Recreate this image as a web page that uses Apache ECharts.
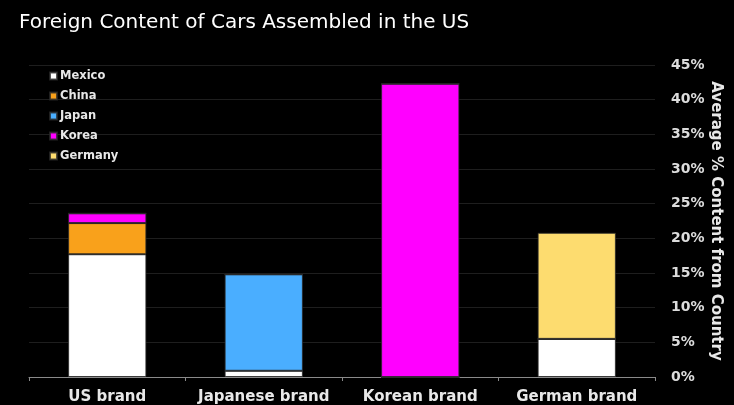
<!DOCTYPE html>
<html>
<head>
<meta charset="utf-8">
<script src="https://cdn.jsdelivr.net/npm/echarts@6/dist/echarts.min.js"></script>
<style>
  html, body { margin: 0; padding: 0; background: #000; }
  #chart { width: 734px; height: 405px; }
</style>
</head>
<body>
<div id="chart"></div>
<script>
// Brand groups along the x axis
const categories = ['US brand', 'Japanese brand', 'Korean brand', 'German brand'];

// Average % content sourced from each country (stacked)
const mexico  = [17.7, 0.9, 0, 5.5];
const china   = [4.5, 0, 0, 0];
const japan   = [0, 13.9, 0, 0];
const korea   = [1.4, 0, 42.3, 0];
const germany = [0, 0, 0, 15.3];

const yTicks = { min: 0, max: 45, interval: 5 };

const seriesDefs = [
  { name: 'Mexico',  data: mexico,  color: '#ffffff' },
  { name: 'China',   data: china,   color: '#f9a11b' },
  { name: 'Japan',   data: japan,   color: '#4aaeff' },
  { name: 'Korea',   data: korea,   color: '#ff00ff' },
  { name: 'Germany', data: germany, color: '#fddc6f' }
];

const chart = echarts.init(document.getElementById('chart'));
chart.setOption({
  backgroundColor: '#000000',
  animation: false,
  title: {
    text: 'Foreign Content of Cars Assembled in the US',
    left: 14,
    top: 8,
    textStyle: {
      color: '#ffffff',
      fontFamily: 'DejaVu Sans',
      fontWeight: 'normal',
      fontSize: 20
    }
  },
  legend: {
    orient: 'vertical',
    left: 44,
    top: 65,
    itemWidth: 7,
    itemHeight: 7,
    itemGap: 8,
    icon: 'rect',
    selectedMode: false,
    textStyle: {
      color: '#e8e8e8',
      fontFamily: 'DejaVu Sans',
      fontWeight: 'bold',
      fontSize: 11.5,
      padding: [0, 0, 0, -2]
    },
    data: seriesDefs.map(s => s.name)
  },
  grid: {
    left: 29,
    right: 79,
    top: 65,
    bottom: 28,
    containLabel: false,
    outerBoundsMode: 'none'
  },
  xAxis: {
    type: 'category',
    data: categories,
    axisLine: { lineStyle: { color: '#8a8a8a', width: 1 } },
    axisTick: { show: true, alignWithLabel: false, interval: 0, length: 4, lineStyle: { color: '#8a8a8a' } },
    axisLabel: {
      interval: 0,
      color: '#e8e8e8',
      fontFamily: 'DejaVu Sans',
      fontWeight: 'bold',
      fontSize: 15,
      margin: 13
    }
  },
  yAxis: {
    type: 'value',
    position: 'right',
    min: yTicks.min,
    max: yTicks.max,
    interval: yTicks.interval,
    name: 'Average % Content from Country',
    nameLocation: 'middle',
    nameRotate: -90,
    nameGap: 53,
    nameMoveOverlap: false,
    nameTextStyle: {
      color: '#e8e8e8',
      fontFamily: 'DejaVu Sans',
      fontWeight: 'bold',
      fontSize: 15
    },
    axisLine: { show: false },
    axisTick: { show: false },
    splitLine: { lineStyle: { color: '#1e1e1e', width: 1 } },
    axisLabel: {
      color: '#dcdcdc',
      fontFamily: 'DejaVu Sans',
      fontWeight: 'bold',
      fontSize: 14,
      margin: 16,
      formatter: v => v + '%'
    }
  },
  series: seriesDefs.map(s => ({
    name: s.name,
    type: 'bar',
    stack: 'total',
    barWidth: '50%',
    data: s.data,
    itemStyle: {
      color: s.color,
      borderColor: 'rgba(40,40,40,0.8)',
      borderWidth: 1
    }
  }))
});
</script>
</body>
</html>
